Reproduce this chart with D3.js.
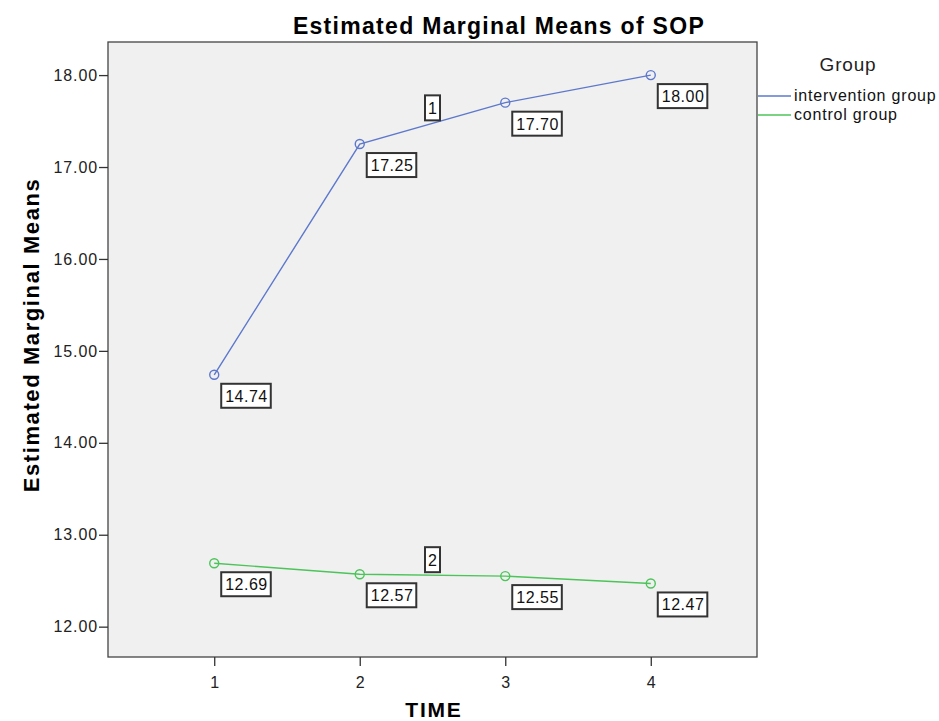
<!DOCTYPE html>
<html><head><meta charset="utf-8">
<script src="https://cdn.jsdelivr.net/npm/d3@7"></script>
<style>body{margin:0;background:#fff;font-family:Arial,"Liberation Sans",sans-serif}</style>
</head><body>
<svg id="c" width="939" height="721"></svg>
<script>
const times = [1, 2, 3, 4];
const groups = ["intervention group", "control group"];
const intervention = [14.74, 17.25, 17.70, 18.00];
const control = [12.69, 12.57, 12.55, 12.47];
const yTicks = [12, 13, 14, 15, 16, 17, 18];
const lineLabels = ["1", "2"];
const colors = ["#5d78cc", "#4cc459"];

const svg = d3.select("#c");
const L = 108, R = 757, T = 42, B = 657;
const x = d3.scaleLinear().domain([0.27, 4.73]).range([L, R]);
const y = d3.scaleLinear().domain([11.67, 18.36]).range([B, T]);
const FF = "Arial, Liberation Sans, sans-serif";

svg.append("rect").attr("x", L).attr("y", T).attr("width", R - L).attr("height", B - T)
  .attr("fill", "#f0f0f0").attr("stroke", "#444").attr("stroke-width", 1.3);

const yAxis = svg.append("g").attr("transform", `translate(${L},0)`)
  .call(d3.axisLeft(y).tickValues(yTicks).tickFormat(d3.format(".2f")).tickSize(9).tickSizeOuter(0));
yAxis.select(".domain").remove();
yAxis.selectAll("line").attr("stroke", "#333").attr("stroke-width", 1.3);
yAxis.selectAll("text").attr("font-size", 16).attr("letter-spacing", 0.9).attr("font-family", FF).attr("fill", "#222").attr("x", -10);

const xAxis = svg.append("g").attr("transform", `translate(0,${B})`)
  .call(d3.axisBottom(x).tickValues(times).tickFormat(d3.format("d")).tickSize(9).tickSizeOuter(0));
xAxis.select(".domain").remove();
xAxis.selectAll("line").attr("stroke", "#333").attr("stroke-width", 1.3);
xAxis.selectAll("text").attr("font-size", 16).attr("font-family", FF).attr("fill", "#222").attr("dy", "1.2em");

svg.append("text").attr("x", 499).attr("y", 34).attr("text-anchor", "middle")
  .attr("font-size", 23).attr("letter-spacing", 1.3).attr("font-weight", "bold").text("Estimated Marginal Means of SOP");
svg.append("text").attr("x", 434).attr("y", 717).attr("text-anchor", "middle")
  .attr("font-size", 21).attr("letter-spacing", 1.8).attr("font-weight", "bold").text("TIME");
svg.append("text").attr("transform", "translate(39,335) rotate(-90)").attr("text-anchor", "middle")
  .attr("font-size", 22).attr("letter-spacing", 1.6).attr("font-weight", "bold").text("Estimated Marginal Means");

const series = [intervention, control];
const line = d3.line().x((d, i) => x(times[i])).y(d => y(d));
series.forEach((vals, si) => {
  svg.append("path").attr("d", line(vals)).attr("fill", "none").attr("stroke", colors[si]).attr("stroke-width", 1.4);
  vals.forEach((v, i) => {
    svg.append("circle").attr("cx", x(times[i])).attr("cy", y(v)).attr("r", 4.5)
      .attr("fill", "none").attr("stroke", colors[si]).attr("stroke-width", 1.4);
    const bx = x(times[i]) + 7, by = y(v) + 9;
    const g = svg.append("g");
    const t = g.append("text").attr("x", bx + 4).attr("y", by + 18).attr("font-size", 16).attr("letter-spacing", 0.5).attr("fill", "#111").text(v.toFixed(2));
    const w = t.node().getComputedTextLength();
    g.insert("rect", "text").attr("x", bx).attr("y", by).attr("width", w + 7).attr("height", 24)
      .attr("fill", "#fff").attr("stroke", "#333").attr("stroke-width", 2);
  });
  const mx = x((times[1] + times[2]) / 2), my = y((vals[1] + vals[2]) / 2);
  const g = svg.append("g");
  g.append("rect").attr("x", mx - 7.5).attr("y", my - 28).attr("width", 15).attr("height", 25)
    .attr("fill", "#fff").attr("stroke", "#333").attr("stroke-width", 2);
  g.append("text").attr("x", mx).attr("y", my - 9).attr("text-anchor", "middle").attr("font-size", 16).attr("fill", "#111").text(lineLabels[si]);
});

// legend
svg.append("text").attr("x", 848).attr("y", 71).attr("text-anchor", "middle").attr("font-size", 19).attr("letter-spacing", 0.8).attr("fill", "#222").text("Group");
groups.forEach((gname, i) => {
  const ly = 96 + i * 19;
  svg.append("line").attr("x1", 758).attr("x2", 791).attr("y1", ly).attr("y2", ly).attr("stroke", colors[i]).attr("stroke-width", 1.4);
  svg.append("text").attr("x", 794).attr("y", ly + 5).attr("font-size", 16).attr("letter-spacing", 0.8).attr("fill", "#111").text(gname);
});
</script>
</body></html>
